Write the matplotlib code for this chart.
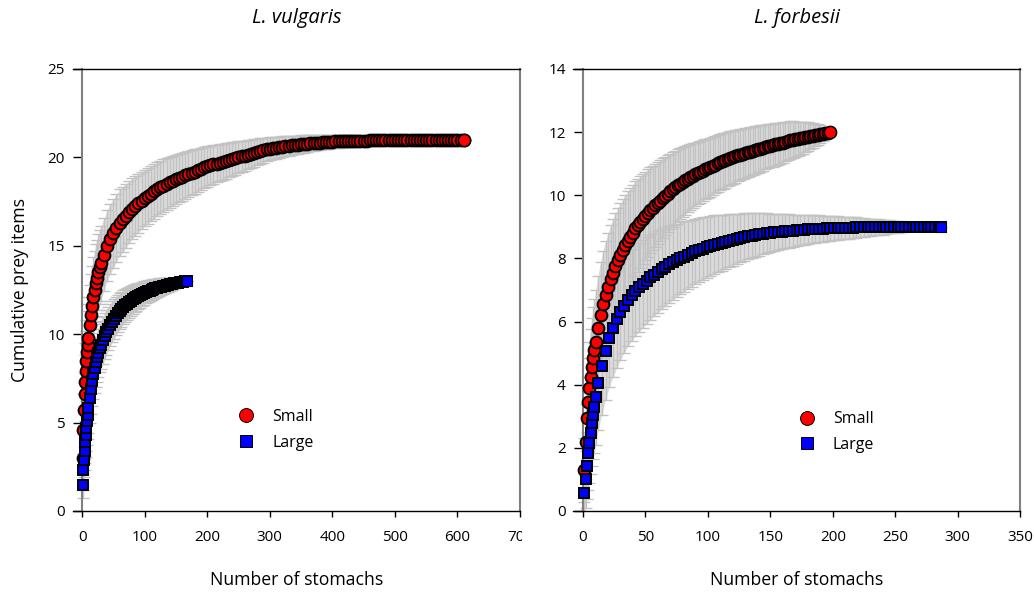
import matplotlib
matplotlib.use("Agg")
import matplotlib.pyplot as plt
from matplotlib.lines import Line2D
from matplotlib.transforms import Bbox, TransformedBbox
import numpy as np

plt.rcParams['font.family'] = ['Open Sans', 'DejaVu Sans']

# ---- L. vulgaris, small (number of stomachs, mean, sd) ----
vs_n = (list(range(1, 11)) + list(range(12, 31, 2)) + list(range(35, 611, 5)) + [611])
vs_mean = [3.0, 4.6, 5.7, 6.6, 7.3, 7.9, 8.5, 9.0, 9.4, 9.8,
           10.5, 11.1, 11.6, 12.1, 12.5, 12.9, 13.2, 13.5, 13.8, 14.0,
           14.5, 15.0, 15.4, 15.7, 16.0, 16.3, 16.5, 16.7, 16.9, 17.1,
           17.25, 17.4, 17.55, 17.7, 17.83, 17.95, 18.08, 18.2, 18.3, 18.4,
           18.5, 18.6, 18.68, 18.75, 18.83, 18.9, 18.98, 19.05, 19.13, 19.2,
           19.28, 19.35, 19.43, 19.5, 19.55, 19.6, 19.65, 19.7, 19.75, 19.8,
           19.85, 19.9, 19.95, 20.0, 20.05, 20.1, 20.15, 20.2, 20.25, 20.3,
           20.35, 20.4, 20.45, 20.5, 20.52, 20.55, 20.58, 20.6, 20.63, 20.65,
           20.68, 20.7, 20.72, 20.74, 20.76, 20.78, 20.8, 20.81, 20.83, 20.84,
           20.86, 20.87, 20.88, 20.89, 20.9, 20.9, 20.91, 20.92, 20.92, 20.93,
           20.93, 20.94, 20.94, 20.95, 20.95, 20.96, 20.96, 20.96, 20.97, 20.97,
           20.97, 20.97, 20.98, 20.98, 20.98, 20.98, 20.99, 20.99, 20.99, 20.99,
           20.99, 21.0, 21.0, 21.0, 21.0, 21.0, 21.0, 21.0, 21.0, 21.0,
           21.0, 21.0, 21.0, 21.0, 21.0, 21.0, 21.0]
vs_sd = [1.8, 2.0, 2.1, 2.2, 2.2, 2.3, 2.3, 2.3, 2.3, 2.3,
         2.3, 2.3, 2.25, 2.25, 2.2, 2.2, 2.15, 2.15, 2.1, 2.1,
         2.05, 2.0, 1.98, 1.95, 1.92, 1.9, 1.85, 1.8, 1.76, 1.72,
         1.68, 1.65, 1.62, 1.6, 1.58, 1.56, 1.54, 1.52, 1.5, 1.48,
         1.46, 1.44, 1.42, 1.4, 1.37, 1.35, 1.32, 1.3, 1.27, 1.25,
         1.22, 1.2, 1.17, 1.15, 1.12, 1.1, 1.07, 1.05, 1.02, 1.0,
         0.97, 0.95, 0.92, 0.9, 0.87, 0.85, 0.82, 0.8, 0.77, 0.75,
         0.72, 0.7, 0.67, 0.65, 0.63, 0.62, 0.6, 0.59, 0.57, 0.56,
         0.54, 0.53, 0.51, 0.5, 0.49, 0.47, 0.46, 0.45, 0.43, 0.42,
         0.41, 0.4, 0.39, 0.38, 0.37, 0.36, 0.35, 0.34, 0.33, 0.32,
         0.31, 0.3, 0.29, 0.28, 0.27, 0.26, 0.26, 0.25, 0.24, 0.23,
         0.22, 0.21, 0.21, 0.2, 0.19, 0.18, 0.17, 0.17, 0.16, 0.15,
         0.14, 0.13, 0.13, 0.12, 0.11, 0.1, 0.09, 0.08, 0.08, 0.07,
         0.06, 0.05, 0.04, 0.04, 0.02, 0.01, 0.0]

# ---- L. vulgaris, large ----
vl_n = list(range(1, 11)) + list(range(12, 31, 2)) + list(range(33, 169, 3))
vl_mean = [1.45, 2.3, 2.9, 3.4, 3.9, 4.3, 4.7, 5.1, 5.45, 5.8,
           6.4, 6.9, 7.35, 7.75, 8.1, 8.4, 8.7, 8.95, 9.2, 9.4,
           9.65, 9.9, 10.12, 10.32, 10.52, 10.7, 10.87, 11.03, 11.17, 11.3,
           11.42, 11.53, 11.63, 11.72, 11.8, 11.89, 11.97, 12.03, 12.09, 12.15,
           12.21, 12.27, 12.33, 12.38, 12.43, 12.47, 12.51, 12.55, 12.59, 12.63,
           12.66, 12.69, 12.72, 12.75, 12.78, 12.8, 12.83, 12.85, 12.88, 12.9,
           12.92, 12.94, 12.96, 12.97, 12.99, 13.0]
vl_sd = [0.7, 0.9, 1.0, 1.1, 1.2, 1.25, 1.3, 1.35, 1.4, 1.4,
         1.4, 1.4, 1.4, 1.4, 1.4, 1.4, 1.38, 1.37, 1.36, 1.35,
         1.33, 1.3, 1.27, 1.24, 1.2, 1.16, 1.12, 1.08, 1.05, 1.02,
         0.99, 0.96, 0.93, 0.9, 0.87, 0.84, 0.81, 0.78, 0.76, 0.73,
         0.71, 0.68, 0.66, 0.64, 0.62, 0.6, 0.57, 0.55, 0.53, 0.51,
         0.49, 0.47, 0.45, 0.43, 0.41, 0.39, 0.37, 0.34, 0.32, 0.29,
         0.26, 0.23, 0.19, 0.15, 0.09, 0.0]

# ---- L. forbesii, small ----
fs_n = list(range(1, 11)) + list(range(12, 199, 2))
fs_mean = [1.3, 2.2, 2.95, 3.45, 3.9, 4.25, 4.57, 4.85, 5.1, 5.35,
           5.8, 6.2, 6.55, 6.85, 7.1, 7.35, 7.55, 7.75, 7.95, 8.1,
           8.27, 8.42, 8.55, 8.68, 8.82, 8.95, 9.05, 9.15, 9.25, 9.35,
           9.44, 9.52, 9.6, 9.68, 9.75, 9.83, 9.91, 9.98, 10.05, 10.12,
           10.19, 10.25, 10.31, 10.37, 10.42, 10.47, 10.52, 10.57, 10.62, 10.66,
           10.7, 10.74, 10.78, 10.82, 10.85, 10.89, 10.93, 10.97, 11.01, 11.05,
           11.08, 11.11, 11.14, 11.17, 11.2, 11.23, 11.26, 11.28, 11.31, 11.34,
           11.36, 11.38, 11.41, 11.43, 11.46, 11.48, 11.5, 11.53, 11.55, 11.57,
           11.59, 11.61, 11.63, 11.65, 11.67, 11.69, 11.72, 11.74, 11.76, 11.77,
           11.79, 11.8, 11.82, 11.84, 11.86, 11.87, 11.89, 11.91, 11.92, 11.94,
           11.95, 11.97, 11.98, 12.0]
fs_sd = [1.0, 1.2, 1.3, 1.4, 1.45, 1.5, 1.55, 1.6, 1.6, 1.65,
         1.65, 1.7, 1.7, 1.7, 1.7, 1.7, 1.7, 1.68, 1.66, 1.64,
         1.62, 1.6, 1.57, 1.55, 1.52, 1.5, 1.47, 1.45, 1.42, 1.4,
         1.38, 1.36, 1.34, 1.32, 1.3, 1.28, 1.26, 1.24, 1.22, 1.2,
         1.18, 1.16, 1.14, 1.12, 1.1, 1.08, 1.06, 1.04, 1.02, 1.0,
         0.99, 0.97, 0.96, 0.95, 0.94, 0.93, 0.92, 0.91, 0.9, 0.89,
         0.88, 0.87, 0.86, 0.85, 0.84, 0.83, 0.82, 0.81, 0.8, 0.79,
         0.78, 0.77, 0.76, 0.75, 0.74, 0.73, 0.72, 0.71, 0.7, 0.69,
         0.68, 0.67, 0.66, 0.65, 0.64, 0.62, 0.61, 0.6, 0.58, 0.56,
         0.54, 0.52, 0.5, 0.48, 0.45, 0.42, 0.39, 0.36, 0.33, 0.29,
         0.22, 0.15, 0.08, 0.0]

# ---- L. forbesii, large ----
fl_n = list(range(1, 11)) + list(range(12, 286, 3)) + [287]
fl_mean = [0.58, 1.0, 1.44, 1.83, 2.14, 2.46, 2.78, 3.05, 3.3, 3.6,
           4.05, 4.6, 5.08, 5.48, 5.8, 6.07, 6.3, 6.5, 6.68, 6.84,
           6.97, 7.09, 7.2, 7.3, 7.4, 7.49, 7.58, 7.66, 7.74, 7.81,
           7.88, 7.94, 8.0, 8.06, 8.12, 8.17, 8.22, 8.27, 8.31, 8.35,
           8.39, 8.43, 8.47, 8.5, 8.53, 8.56, 8.59, 8.62, 8.65, 8.68,
           8.7, 8.72, 8.74, 8.76, 8.78, 8.8, 8.81, 8.83, 8.84, 8.85,
           8.86, 8.87, 8.88, 8.89, 8.9, 8.91, 8.92, 8.92, 8.93, 8.94,
           8.94, 8.95, 8.95, 8.96, 8.96, 8.96, 8.97, 8.97, 8.97, 8.98,
           8.98, 8.98, 8.98, 8.99, 8.99, 8.99, 8.99, 8.99, 9.0, 9.0,
           9.0, 9.0, 9.0, 9.0, 9.0, 9.0, 9.0, 9.0, 9.0, 9.0,
           9.0, 9.0, 9.0]
fl_sd = [0.7, 0.9, 1.05, 1.15, 1.25, 1.3, 1.35, 1.4, 1.45, 1.5,
         1.5, 1.55, 1.55, 1.55, 1.55, 1.53, 1.51, 1.49, 1.47, 1.45,
         1.43, 1.41, 1.39, 1.37, 1.35, 1.32, 1.3, 1.27, 1.25, 1.22,
         1.19, 1.16, 1.14, 1.11, 1.08, 1.06, 1.03, 1.01, 0.99, 0.97,
         0.95, 0.93, 0.91, 0.89, 0.86, 0.84, 0.82, 0.79, 0.77, 0.75,
         0.73, 0.71, 0.69, 0.67, 0.65, 0.63, 0.61, 0.59, 0.57, 0.56,
         0.54, 0.53, 0.51, 0.5, 0.48, 0.47, 0.46, 0.44, 0.43, 0.42,
         0.41, 0.4, 0.39, 0.38, 0.37, 0.36, 0.35, 0.34, 0.33, 0.32,
         0.31, 0.3, 0.28, 0.27, 0.26, 0.25, 0.24, 0.22, 0.21, 0.2,
         0.18, 0.17, 0.15, 0.14, 0.12, 0.11, 0.09, 0.08, 0.06, 0.05,
         0.03, 0.01, 0.0]

titles = ['L. vulgaris', 'L. forbesii']
xlims = [(-14.5, 700), (-8, 350)]
xticks = [[0, 100, 200, 300, 400, 500, 600, 700], [0, 50, 100, 150, 200, 250, 300, 350]]
ylims = [(0, 25), (0, 14)]
yticks = [[0, 5, 10, 15, 20, 25], [0, 2, 4, 6, 8, 10, 12, 14]]
panels = [((vs_n, vs_mean, vs_sd), (vl_n, vl_mean, vl_sd)),
          ((fs_n, fs_mean, fs_sd), (fl_n, fl_mean, fl_sd))]
legend_anchor = [(0.3555, 0.245), (0.491, 0.24)]

fig = plt.figure(figsize=(10.34, 5.93), dpi=100)
axes = [fig.add_axes([0.0706, 0.1383, 0.4323, 0.7454]),
        fig.add_axes([0.5542, 0.1383, 0.4323, 0.7454])]

styles = [dict(marker='o', ms=8.5, mfc='#ff0000'), dict(marker='s', ms=7.5, mfc='#0000ff')]

for i, ax in enumerate(axes):
    for k, (n, m, s) in enumerate(panels[i]):
        n, m, s = np.array(n), np.array(m), np.array(s)
        ax.fill_between(n, m - s, m + s, color='#dcdcdc', lw=0, zorder=1)
        ax.errorbar(n, m, yerr=s, fmt='none', ecolor='#c2c2c2', elinewidth=1,
                    capsize=4, capthick=1, zorder=2)
    for k, (n, m, s) in enumerate(panels[i]):
        # dense, overlapping symbols: the black outlines dominate the chain
        ax.plot(n, m, linestyle='None', mec='black', mew=1.4,
                zorder=3 + k, clip_on=False, **styles[k])
        ax.plot(n[-1:], m[-1:], linestyle='None', mec='black', mew=0.8,
                zorder=3 + k, clip_on=False, **styles[k])

    ax.set_xlim(*xlims[i])
    ax.set_ylim(*ylims[i])
    ax.set_xticks(xticks[i])
    ax.set_yticks(yticks[i])
    ax.spines['left'].set_position(('data', 0))
    ax.spines['left'].set_color('#808080')
    ax.spines['left'].set_linewidth(1.5)
    ax.spines['right'].set_color('#808080')
    ax.spines['right'].set_linewidth(1.5)
    for sp in ('top', 'bottom'):
        ax.spines[sp].set_color('black')
        ax.spines[sp].set_linewidth(1)
    ax.tick_params(axis='y', direction='out', length=6.5, width=1, pad=6, labelsize=11)
    ax.tick_params(axis='x', direction='out', length=4.5, width=1, pad=9, labelsize=11)
    ax.set_title(titles[i], style='italic', fontsize=14.5, pad=33)
    ax.set_xlabel('Number of stomachs', fontsize=12.7, labelpad=19)

    handles = [Line2D([], [], linestyle='None', marker='o', ms=10, mfc='#ff0000', mec='black', mew=0.7),
               Line2D([], [], linestyle='None', marker='s', ms=9, mfc='#0000ff', mec='black', mew=0.7)]
    ax.legend(handles, ['Small', 'Large'], loc='upper left', bbox_to_anchor=legend_anchor[i],
              frameon=False, fontsize=11.5, handlelength=1.0, handletextpad=1.12,
              labelspacing=0.6, borderaxespad=0)

axes[0].set_ylabel('Cumulative prey items', fontsize=12.7, labelpad=13)

# the last tick label of the left panel is cut by the right panel
clip = TransformedBbox(Bbox([[0, 0], [522 / 1034, 1]]), fig.transFigure)
for lab in axes[0].get_xticklabels():
    lab.set_clip_box(clip)
    lab.set_clip_on(True)

fig.savefig('out.png', dpi=100)
